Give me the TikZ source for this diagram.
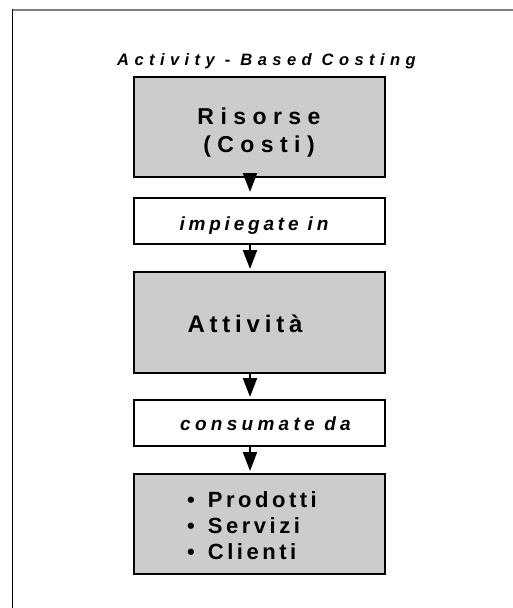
\documentclass[tikz,border=0pt]{standalone}
\usepackage{fontspec}
\setmainfont{Liberation Sans}
\usetikzlibrary{positioning, calc, arrows.meta}
\definecolor{boxGray}{RGB}{204, 204, 204}
\definecolor{frameGray}{RGB}{128, 128, 128}

\begin{document}
\begin{tikzpicture}[x=1pt, y=-1pt,
    block/.style={draw=black, line width=2pt, minimum width=251pt, inner sep=0pt},
    grayblock/.style={block, fill=boxGray, minimum height=100pt},
    whiteblock/.style={block, fill=white, minimum height=46pt},
    flow/.style={-{Triangle[width=14pt, length=19pt]}, line width=2pt}]
    %
    % Layout: one column of five boxes (x=[134,385]), y grows downwards,
    % the arrows run on a common axis a little left of the box centres.
    %
    \useasboundingbox (0,0) rectangle (513,608);

    %% ── frame ──────────────────────────────────────────────────────
    \draw[frameGray, line width=2pt] (12,10) -- (513,10);
    \draw[black, line width=1.3pt] (12.3,9) -- (12.3,608);

    %% ── title ──────────────────────────────────────────────────────
    \node[anchor=base, inner sep=0pt,
          font=\bfseries\itshape\fontsize{16.5}{20}\selectfont\addfontfeatures{LetterSpace=33}]
      (title) at (266.5,65) {Activity - Based Costing};

    %% ── boxes ──────────────────────────────────────────────────────
    \node[grayblock] (risorse) at (259.5,127) {};
    \node[whiteblock] (impiegate) at (259.5,221) {};
    \node[grayblock, minimum height=101pt] (attivita) at (259.5,322.5) {};
    \node[whiteblock] (consumate) at (259.5,423) {};
    \node[grayblock] (oggetti) at (259.5,524) {};

    %% ── box texts ──────────────────────────────────────────────────
    \node[align=center, inner sep=0pt,
          font=\bfseries\fontsize{23}{28}\selectfont\addfontfeatures{LetterSpace=28}]
      (risorseText) at (259,132.5) {Risorse\\(Costi)};
    \node[anchor=base, inner sep=0pt,
          font=\bfseries\itshape\fontsize{19}{22}\selectfont\addfontfeatures{LetterSpace=20}]
      (impiegateText) at (254,230) {impiegate in};
    \node[anchor=base, inner sep=0pt,
          font=\bfseries\fontsize{24}{28}\selectfont\addfontfeatures{LetterSpace=20}]
      (attivitaText) at (245,332) {Attività};
    \node[anchor=base, inner sep=0pt,
          font=\bfseries\itshape\fontsize{19}{22}\selectfont\addfontfeatures{LetterSpace=22.5}]
      (consumateText) at (265.5,430) {consumate da};
    \node[anchor=west, align=left, inner sep=0pt,
          font=\bfseries\fontsize{22}{26}\selectfont\addfontfeatures{LetterSpace=16}]
      (oggettiText) at (187,525.5)
      {•\hspace{13pt}Prodotti\\•\hspace{13pt}Servizi\\•\hspace{13pt}Clienti};

    %% ── arrows ─────────────────────────────────────────────────────
    \coordinate (axis) at (250,0);
    \draw[flow, shorten >=5pt] (risorse.south -| axis) -- (impiegate.north -| axis);
    \draw[flow, shorten >=2pt] (impiegate.south -| axis) -- (attivita.north -| axis);
    \draw[flow, shorten >=2pt] (attivita.south -| axis) -- (consumate.north -| axis);
    \draw[flow, shorten >=2pt] (consumate.south -| axis) -- (oggetti.north -| axis);

\end{tikzpicture}
\end{document}
